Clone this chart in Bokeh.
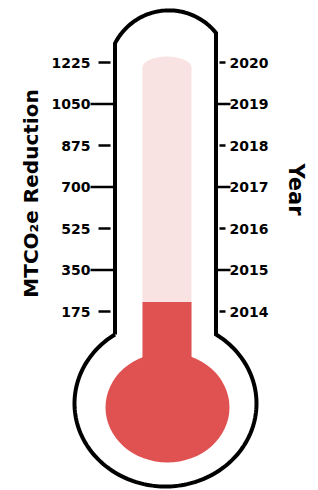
import numpy as np
from bokeh.plotting import figure
from bokeh.models import Range1d
from bokeh.core.properties import value
from bokeh.embed import file_html
from bokeh.resources import INLINE

# ---------------- data ----------------
reduction_ticks = [175, 350, 525, 700, 875, 1050, 1225]
reduction_labels = ["175", "350", "525", "700", "875", "1050", "1225"]
year_ticks = [2014, 2015, 2016, 2017, 2018, 2019, 2020]
year_labels = ["2014", "2015", "2016", "2017", "2018", "2019", "2020"]
current_reduction = [215]      # MTCO2e reached so far
tube_max = 1250                # top of the thermometer scale
left_title = "MTCO₂e Reduction"
right_title = "Year"

# ---------------- layout ----------------
W, H, PAD = 318, 490, 0
PX_PER_UNIT = (311 - 62) / (1225 - 175)      # screen px per MTCO2e


def v_at(py):
    """value on the reduction scale shown at page row py"""
    return 175 + (311 - py) / PX_PER_UNIT


def to_year(v):
    return 2014 + (v - 175) / 175


def px(n):
    return n / PX_PER_UNIT


y_lo, y_hi = v_at(PAD + H), v_at(PAD)

p = figure(width=W, height=H, x_range=Range1d(PAD, PAD + W), y_range=Range1d(y_lo, y_hi),
           x_axis_location=None, y_axis_location=None, toolbar_location=None,
           output_backend="svg", min_border=0, background_fill_color="white")
p.extra_y_ranges = {"years": Range1d(to_year(y_lo), to_year(y_hi))}
p.grid.visible = False
p.outline_line_color = None

RED = "#e05252"
PALE = "#f9e2e2"
INK = "#000000"

tube_l, tube_r = 142, 191
tube_cx = (tube_l + tube_r) / 2
bulb_cx, bulb_cy, bulb_rx, bulb_ry = 167, 407, 62, 55
cap_ry = 11

# pale tube (full scale)
p.quad(left=[tube_l], right=[tube_r], bottom=[v_at(bulb_cy)], top=[tube_max - px(cap_ry)],
       fill_color=PALE, line_color=None)
p.ellipse(x=[tube_cx], y=[tube_max - px(cap_ry)], width=[tube_r - tube_l], height=[px(2 * cap_ry)],
          fill_color=PALE, line_color=None)

# red fill up to current value
p.quad(left=[tube_l], right=[tube_r], bottom=[v_at(bulb_cy)], top=current_reduction,
       fill_color=RED, line_color=None)
p.ellipse(x=[bulb_cx], y=[v_at(bulb_cy)], width=[2 * bulb_rx], height=[px(2 * bulb_ry)],
          fill_color=RED, line_color=None)

# outline of the glass
L, R = 114.5, 215.5
ccx, ccy, cr = 168.4, 70.4, 60.5
ocx, ocy, orx, ory = 165, 403, 91, 83
tl = np.arctan2(-np.sqrt(cr**2 - (L - ccx) ** 2), L - ccx)
tr = np.arctan2(-np.sqrt(cr**2 - (R - ccx) ** 2), R - ccx)
t = np.linspace(tl, tr, 60)
top_x, top_y = ccx + cr * np.cos(t), ccy + cr * np.sin(t)
phr = -np.arccos((R - ocx) / orx)
phl = -np.arccos((L - ocx) / orx) + 2 * np.pi
ph = np.linspace(phr, phl, 160)
bot_x, bot_y = ocx + orx * np.cos(ph), ocy + ory * np.sin(ph)
jy = bot_y[-1]
xs = np.concatenate([[L], top_x, bot_x])
ys = np.concatenate([[jy], top_y, bot_y])
p.line(xs, [v_at(y) for y in ys], line_color=INK, line_width=4, line_join="miter")

# left ticks + labels
lx0 = [90 if i % 2 else 98 for i in range(len(reduction_ticks))]
lx1 = [114 if i % 2 else 110 for i in range(len(reduction_ticks))]
p.segment(x0=lx0, y0=reduction_ticks, x1=lx1, y1=reduction_ticks, line_color=INK, line_width=2.6)
p.text(x=[90] * len(reduction_ticks), y=reduction_ticks, text=reduction_labels,
       text_font=value("DejaVu Sans"), text_font_style="bold", text_font_size="14px",
       text_align="right", text_baseline="middle", text_color=INK)

# right ticks + labels
rx0 = [215 if i % 2 else 219 for i in range(len(year_ticks))]
rx1 = [230 if i % 2 else 225 for i in range(len(year_ticks))]
p.segment(x0=rx0, y0=year_ticks, x1=rx1, y1=year_ticks, line_color=INK, line_width=2.6,
          y_range_name="years")
p.text(x=[229] * len(year_ticks), y=year_ticks, text=year_labels, y_range_name="years",
       text_font=value("DejaVu Sans"), text_font_style="bold", text_font_size="14px",
       text_align="left", text_baseline="middle", text_color=INK)

# titles
p.text(x=[30], y=[v_at(193)], text=[left_title], angle=np.pi / 2,
       text_font=value("DejaVu Sans"), text_font_style="bold", text_font_size="20px",
       text_align="center", text_baseline="middle", text_color=INK)
p.text(x=[295], y=[v_at(189)], text=[right_title], angle=-np.pi / 2,
       text_font=value("DejaVu Sans"), text_font_style="bold", text_font_size="21px",
       text_align="center", text_baseline="middle", text_color=INK)

open("out.html", "w").write(file_html(p, INLINE))
